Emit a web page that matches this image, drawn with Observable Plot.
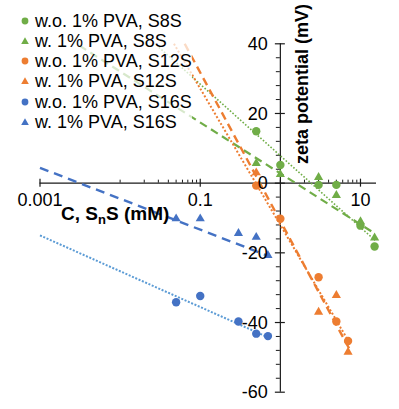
<!DOCTYPE html>
<html>
<head>
<meta charset="utf-8">
<script src="https://cdn.jsdelivr.net/npm/d3@7"></script>
<script src="https://cdn.jsdelivr.net/npm/@observablehq/plot@0.6"></script>
<style>
  body { margin: 0; background: white; }
  #wrap { position: relative; width: 399px; height: 409px; font-family: "Liberation Sans", Arial, Helvetica, sans-serif; }
  #legend { position: absolute; left: 16px; top: 9px; width: 176px; height: 124px; background: rgba(255,255,255,0.72); }
  .row { position: absolute; left: 0; height: 20px; line-height: 20px; font-size: 18px; color: #000; white-space: nowrap; }
  .row svg { position: absolute; left: 3px; top: 4px; }
  .row span { position: absolute; left: 19px; top: 0; }
</style>
</head>
<body>
<div id="wrap">
  <div id="chart"></div>
  <div id="legend"></div>
</div>
<script>
// ---- data ----
const seriesNames = ["w.o. 1% PVA, S8S", "w. 1% PVA, S8S", "w.o. 1% PVA, S12S", "w. 1% PVA, S12S", "w.o. 1% PVA, S16S", "w. 1% PVA, S16S"];

const woS8S_x = [0.5, 1, 3, 5, 10, 15];
const woS8S_y = [14.9, 5.2, -0.5, -0.5, -12.2, -18.2];
const wS8S_x  = [0.5, 1, 3, 5, 10, 15];
const wS8S_y  = [5.7, 2.5, 1.7, -3.5, -11.0, -15.7];

const woS12S_x = [0.5, 1, 3, 5, 7];
const woS12S_y = [-0.7, -10.2, -27.0, -39.7, -45.3];
const wS12S_x  = [0.5, 3, 5, 7];
const wS12S_y  = [3.0, -37.0, -32.2, -48.5];

const woS16S_x = [0.05, 0.1, 0.3, 0.5, 0.7];
const woS16S_y = [-34.2, -32.4, -39.7, -43.2, -43.9];
const wS16S_x  = [0.05, 0.1, 0.3, 0.5, 0.7];
const wS16S_y  = [-10.2, -10.2, -14.4, -15.5, -20.7];

// trendline end points (log-x fits)
const trend_woS8S_x = [0.0305, 15.2], trend_woS8S_y = [39.0, -16.4];
const trend_wS8S_x  = [0.0031, 15.2], trend_wS8S_y  = [39.5, -14.5];
const trend_woS12S_x = [0.047, 7.2],  trend_woS12S_y = [40, -45.6];
const trend_wS12S_x  = [0.064, 7.2],  trend_wS12S_y  = [40, -47.4];
const trend_woS16S_x = [0.001, 0.71], trend_woS16S_y = [-15.0, -44.3];
const trend_wS16S_x  = [0.001, 0.69], trend_wS16S_y  = [4.4, -20.8];

// axes
const xDomain = [0.001, 15.85];
const yDomain = [-60, 40];
const xMajor = [0.001, 0.1, 10];
const xTickLabels = ["0.001", "0.1", "10"];
const xMinor = [0.01, 0.02, 0.03, 0.04, 0.05, 0.06, 0.07, 0.08, 0.09, 1, 2, 3, 4, 5, 6, 7, 8, 9];
const yMajor = [-60, -40, -20, 0, 20, 40];
const yTickLabels = ["-60", "-40", "-20", "0", "20", "40"];
const yMinor = [-56, -52, -48, -44, -36, -32, -28, -24, -16, -12, -8, -4, 4, 8, 12, 16, 24, 28, 32, 36];
const xTitle = "C, SnS (mM)";
const yTitle = "zeta potential (mV)";

// ---- styles ----
const GREEN = "#70AD47", ORANGE = "#ED7D31", BLUE = "#4472C4", LBLUE = "#5B9BD5";
const AX = "#1a1a1a";
const FS = 18;

const pts = (xs, ys) => xs.map((x, i) => ({x, y: ys[i]}));

const series = [
  {pts: pts(woS8S_x, woS8S_y), color: GREEN, symbol: "circle"},
  {pts: pts(wS8S_x, wS8S_y), color: GREEN, symbol: "triangle"},
  {pts: pts(woS12S_x, woS12S_y), color: ORANGE, symbol: "circle"},
  {pts: pts(wS12S_x, wS12S_y), color: ORANGE, symbol: "triangle"},
  {pts: pts(woS16S_x, woS16S_y), color: BLUE, symbol: "circle"},
  {pts: pts(wS16S_x, wS16S_y), color: BLUE, symbol: "triangle"},
];
const trends = [
  {pts: pts(trend_woS8S_x, trend_woS8S_y), color: GREEN, dash: "1.6,1.8", w: 1.6},
  {pts: pts(trend_wS8S_x, trend_wS8S_y), color: GREEN, dash: "8,5", w: 2.2},
  {pts: pts(trend_woS12S_x, trend_woS12S_y), color: ORANGE, dash: "2,2", w: 2},
  {pts: pts(trend_wS12S_x, trend_wS12S_y), color: ORANGE, dash: "8,5", w: 2.4},
  {pts: pts(trend_woS16S_x, trend_woS16S_y), color: LBLUE, dash: "2,1.6", w: 2},
  {pts: pts(trend_wS16S_x, trend_wS16S_y), color: BLUE, dash: "9,6", w: 2.4},
];

const marks = [
  // axis lines
  Plot.ruleY([0], {x1: xDomain[0], x2: xDomain[1], stroke: AX, strokeWidth: 1.2}),
  Plot.ruleX([1], {y1: yDomain[0], y2: yDomain[1], stroke: AX, strokeWidth: 1.2}),
  // x ticks
  Plot.ruleX(xMajor, {x: d => d, y1: 0, y2: 0, insetTop: -4, insetBottom: -4, stroke: AX, strokeWidth: 1.2}),
  Plot.ruleX(xMinor, {x: d => d, y1: 0, y2: 0, insetTop: -3, insetBottom: 0, stroke: AX, strokeWidth: 1}),
  // y ticks
  Plot.ruleY(yMajor, {y: d => d, x1: 1, x2: 1, insetLeft: -5, insetRight: -5, stroke: AX, strokeWidth: 1.2}),
  Plot.ruleY(yMinor, {y: d => d, x1: 1, x2: 1, insetLeft: -4, insetRight: 0, stroke: AX, strokeWidth: 1}),
];
for (const t of trends) {
  marks.push(Plot.line(t.pts, {x: "x", y: "y", stroke: t.color, strokeWidth: t.w, strokeDasharray: t.dash, strokeLinecap: "butt"}));
}
for (const s of series) {
  marks.push(Plot.dot(s.pts, {x: "x", y: "y", fill: s.color, stroke: "none", symbol: s.symbol, r: s.symbol === "circle" ? 4.2 : 3.4}));
}
marks.push(
  Plot.text(xMajor, {x: d => d, y: 0, text: (d, i) => xTickLabels[i], dy: 17.5, fontSize: FS, fill: "#000"}),
  Plot.text(yMajor, {x: 1, y: d => d, text: (d, i) => yTickLabels[i], dx: -12.5, dy: 0.5, textAnchor: "end", fontSize: FS, fill: "#000"}),
  Plot.text([xTitle], {frameAnchor: "top-left", dx: 75.2, dy: 170.5, textAnchor: "middle", lineAnchor: "middle", fontSize: 19, fontWeight: "bold", fill: "#000", className: "xtitle"}),
  Plot.text([yTitle], {frameAnchor: "top-left", dx: 262, dy: 40.2, textAnchor: "middle", lineAnchor: "middle", rotate: -90, fontSize: FS, fontWeight: "bold", fill: "#000"})
);

const chart = Plot.plot({
  width: 399, height: 409,
  marginLeft: 39.5, marginRight: 23, marginTop: 43.3, marginBottom: 17.3,
  x: {type: "log", domain: xDomain, axis: null},
  y: {domain: yDomain, axis: null},
  style: {fontFamily: '"Liberation Sans", Arial, Helvetica, sans-serif', fontSize: FS + "px", background: "white", overflow: "visible"},
  marks
});
document.getElementById("chart").appendChild(chart);

// subscript n in the x title
const xt = chart.querySelector(".xtitle text");
if (xt) {
  xt.innerHTML = 'C, S<tspan dy="4" font-size="13">n</tspan><tspan dy="-4">S (mM)</tspan>';
}

// legend
const legend = document.getElementById("legend");
const rowCenters = [11.7, 31.9, 52.1, 72.3, 92.5, 112.7];
seriesNames.forEach((name, i) => {
  const s = series[i];
  const row = document.createElement("div");
  row.className = "row";
  row.style.top = (rowCenters[i] - 10) + "px";
  const shape = s.symbol === "circle"
    ? `<circle cx="6" cy="6" r="3.4" fill="${s.color}"/>`
    : `<path d="M6,2.2 L9.8,9 L2.2,9 Z" fill="${s.color}"/>`;
  row.innerHTML = `<svg width="12" height="12">${shape}</svg><span>${name}</span>`;
  legend.appendChild(row);
});
</script>
</body>
</html>
